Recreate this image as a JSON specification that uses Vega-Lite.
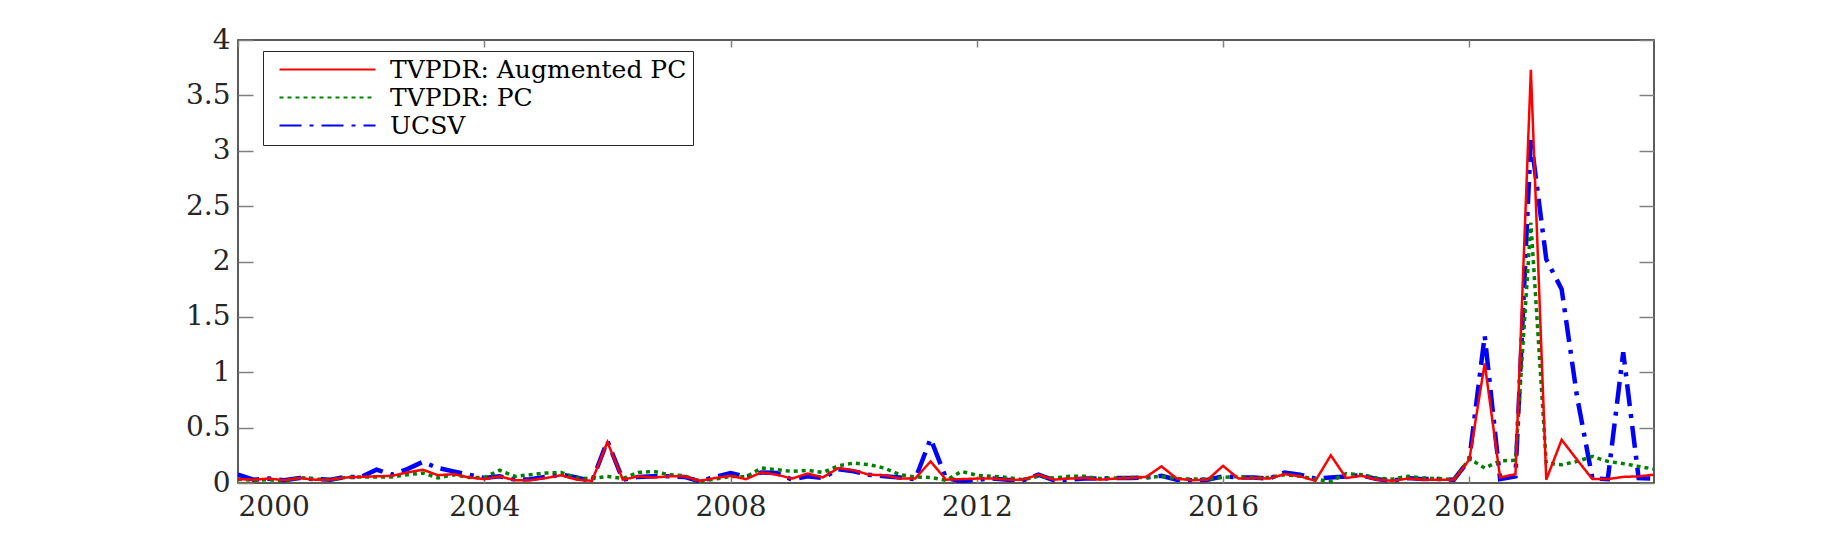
{
  "$schema": "https://vega.github.io/schema/vega-lite/v6.json",
  "width": 1416,
  "height": 443,
  "autosize": {"type": "none"},
  "padding": {"left": 238, "top": 40, "right": 173, "bottom": 60},
  "background": "white",
  "data": {"values": [
    {"t": 2000.00, "TVPDR: Augmented PC": 0.035, "TVPDR: PC": 0.035, "UCSV": 0.075},
    {"t": 2000.25, "TVPDR: Augmented PC": 0.030, "TVPDR: PC": 0.025, "UCSV": 0.030},
    {"t": 2000.50, "TVPDR: Augmented PC": 0.040, "TVPDR: PC": 0.030, "UCSV": 0.040},
    {"t": 2000.75, "TVPDR: Augmented PC": 0.025, "TVPDR: PC": 0.015, "UCSV": 0.025},
    {"t": 2001.00, "TVPDR: Augmented PC": 0.045, "TVPDR: PC": 0.050, "UCSV": 0.045},
    {"t": 2001.25, "TVPDR: Augmented PC": 0.030, "TVPDR: PC": 0.035, "UCSV": 0.035},
    {"t": 2001.50, "TVPDR: Augmented PC": 0.030, "TVPDR: PC": 0.030, "UCSV": 0.030},
    {"t": 2001.75, "TVPDR: Augmented PC": 0.050, "TVPDR: PC": 0.050, "UCSV": 0.055},
    {"t": 2002.00, "TVPDR: Augmented PC": 0.055, "TVPDR: PC": 0.055, "UCSV": 0.055},
    {"t": 2002.25, "TVPDR: Augmented PC": 0.060, "TVPDR: PC": 0.055, "UCSV": 0.120},
    {"t": 2002.50, "TVPDR: Augmented PC": 0.065, "TVPDR: PC": 0.055, "UCSV": 0.075},
    {"t": 2002.75, "TVPDR: Augmented PC": 0.095, "TVPDR: PC": 0.075, "UCSV": 0.125},
    {"t": 2003.00, "TVPDR: Augmented PC": 0.120, "TVPDR: PC": 0.090, "UCSV": 0.190},
    {"t": 2003.25, "TVPDR: Augmented PC": 0.070, "TVPDR: PC": 0.045, "UCSV": 0.135},
    {"t": 2003.50, "TVPDR: Augmented PC": 0.080, "TVPDR: PC": 0.075, "UCSV": 0.105},
    {"t": 2003.75, "TVPDR: Augmented PC": 0.050, "TVPDR: PC": 0.050, "UCSV": 0.075},
    {"t": 2004.00, "TVPDR: Augmented PC": 0.035, "TVPDR: PC": 0.050, "UCSV": 0.045},
    {"t": 2004.25, "TVPDR: Augmented PC": 0.060, "TVPDR: PC": 0.115, "UCSV": 0.060},
    {"t": 2004.50, "TVPDR: Augmented PC": 0.025, "TVPDR: PC": 0.060, "UCSV": 0.030},
    {"t": 2004.75, "TVPDR: Augmented PC": 0.025, "TVPDR: PC": 0.075, "UCSV": 0.035},
    {"t": 2005.00, "TVPDR: Augmented PC": 0.045, "TVPDR: PC": 0.090, "UCSV": 0.055},
    {"t": 2005.25, "TVPDR: Augmented PC": 0.070, "TVPDR: PC": 0.095, "UCSV": 0.075},
    {"t": 2005.50, "TVPDR: Augmented PC": 0.030, "TVPDR: PC": 0.045, "UCSV": 0.050},
    {"t": 2005.75, "TVPDR: Augmented PC": 0.020, "TVPDR: PC": 0.040, "UCSV": 0.015},
    {"t": 2006.00, "TVPDR: Augmented PC": 0.370, "TVPDR: PC": 0.060, "UCSV": 0.380},
    {"t": 2006.25, "TVPDR: Augmented PC": 0.030, "TVPDR: PC": 0.040, "UCSV": 0.030},
    {"t": 2006.50, "TVPDR: Augmented PC": 0.060, "TVPDR: PC": 0.095, "UCSV": 0.055},
    {"t": 2006.75, "TVPDR: Augmented PC": 0.050, "TVPDR: PC": 0.105, "UCSV": 0.060},
    {"t": 2007.00, "TVPDR: Augmented PC": 0.060, "TVPDR: PC": 0.075, "UCSV": 0.060},
    {"t": 2007.25, "TVPDR: Augmented PC": 0.060, "TVPDR: PC": 0.065, "UCSV": 0.055},
    {"t": 2007.50, "TVPDR: Augmented PC": 0.020, "TVPDR: PC": 0.015, "UCSV": 0.015},
    {"t": 2007.75, "TVPDR: Augmented PC": 0.045, "TVPDR: PC": 0.035, "UCSV": 0.055},
    {"t": 2008.00, "TVPDR: Augmented PC": 0.065, "TVPDR: PC": 0.060, "UCSV": 0.090},
    {"t": 2008.25, "TVPDR: Augmented PC": 0.035, "TVPDR: PC": 0.055, "UCSV": 0.055},
    {"t": 2008.50, "TVPDR: Augmented PC": 0.095, "TVPDR: PC": 0.135, "UCSV": 0.095},
    {"t": 2008.75, "TVPDR: Augmented PC": 0.075, "TVPDR: PC": 0.120, "UCSV": 0.090},
    {"t": 2009.00, "TVPDR: Augmented PC": 0.040, "TVPDR: PC": 0.105, "UCSV": 0.030},
    {"t": 2009.25, "TVPDR: Augmented PC": 0.085, "TVPDR: PC": 0.115, "UCSV": 0.060},
    {"t": 2009.50, "TVPDR: Augmented PC": 0.050, "TVPDR: PC": 0.095, "UCSV": 0.045},
    {"t": 2009.75, "TVPDR: Augmented PC": 0.135, "TVPDR: PC": 0.155, "UCSV": 0.125},
    {"t": 2010.00, "TVPDR: Augmented PC": 0.115, "TVPDR: PC": 0.180, "UCSV": 0.105},
    {"t": 2010.25, "TVPDR: Augmented PC": 0.075, "TVPDR: PC": 0.165, "UCSV": 0.075},
    {"t": 2010.50, "TVPDR: Augmented PC": 0.070, "TVPDR: PC": 0.135, "UCSV": 0.060},
    {"t": 2010.75, "TVPDR: Augmented PC": 0.040, "TVPDR: PC": 0.075, "UCSV": 0.050},
    {"t": 2011.00, "TVPDR: Augmented PC": 0.040, "TVPDR: PC": 0.055, "UCSV": 0.035},
    {"t": 2011.25, "TVPDR: Augmented PC": 0.195, "TVPDR: PC": 0.050, "UCSV": 0.400},
    {"t": 2011.50, "TVPDR: Augmented PC": 0.030, "TVPDR: PC": 0.025, "UCSV": 0.045},
    {"t": 2011.75, "TVPDR: Augmented PC": 0.035, "TVPDR: PC": 0.105, "UCSV": 0.015},
    {"t": 2012.00, "TVPDR: Augmented PC": 0.040, "TVPDR: PC": 0.070, "UCSV": 0.030},
    {"t": 2012.25, "TVPDR: Augmented PC": 0.040, "TVPDR: PC": 0.060, "UCSV": 0.040},
    {"t": 2012.50, "TVPDR: Augmented PC": 0.030, "TVPDR: PC": 0.050, "UCSV": 0.030},
    {"t": 2012.75, "TVPDR: Augmented PC": 0.030, "TVPDR: PC": 0.030, "UCSV": 0.025},
    {"t": 2013.00, "TVPDR: Augmented PC": 0.075, "TVPDR: PC": 0.060, "UCSV": 0.075},
    {"t": 2013.25, "TVPDR: Augmented PC": 0.030, "TVPDR: PC": 0.045, "UCSV": 0.025},
    {"t": 2013.50, "TVPDR: Augmented PC": 0.040, "TVPDR: PC": 0.060, "UCSV": 0.030},
    {"t": 2013.75, "TVPDR: Augmented PC": 0.045, "TVPDR: PC": 0.060, "UCSV": 0.040},
    {"t": 2014.00, "TVPDR: Augmented PC": 0.030, "TVPDR: PC": 0.040, "UCSV": 0.040},
    {"t": 2014.25, "TVPDR: Augmented PC": 0.040, "TVPDR: PC": 0.045, "UCSV": 0.045},
    {"t": 2014.50, "TVPDR: Augmented PC": 0.045, "TVPDR: PC": 0.050, "UCSV": 0.045},
    {"t": 2014.75, "TVPDR: Augmented PC": 0.055, "TVPDR: PC": 0.050, "UCSV": 0.050},
    {"t": 2015.00, "TVPDR: Augmented PC": 0.150, "TVPDR: PC": 0.060, "UCSV": 0.065},
    {"t": 2015.25, "TVPDR: Augmented PC": 0.040, "TVPDR: PC": 0.040, "UCSV": 0.030},
    {"t": 2015.50, "TVPDR: Augmented PC": 0.025, "TVPDR: PC": 0.035, "UCSV": 0.025},
    {"t": 2015.75, "TVPDR: Augmented PC": 0.030, "TVPDR: PC": 0.035, "UCSV": 0.030},
    {"t": 2016.00, "TVPDR: Augmented PC": 0.155, "TVPDR: PC": 0.050, "UCSV": 0.060},
    {"t": 2016.25, "TVPDR: Augmented PC": 0.040, "TVPDR: PC": 0.060, "UCSV": 0.050},
    {"t": 2016.50, "TVPDR: Augmented PC": 0.045, "TVPDR: PC": 0.045, "UCSV": 0.050},
    {"t": 2016.75, "TVPDR: Augmented PC": 0.040, "TVPDR: PC": 0.050, "UCSV": 0.040},
    {"t": 2017.00, "TVPDR: Augmented PC": 0.080, "TVPDR: PC": 0.075, "UCSV": 0.095},
    {"t": 2017.25, "TVPDR: Augmented PC": 0.060, "TVPDR: PC": 0.060, "UCSV": 0.075},
    {"t": 2017.50, "TVPDR: Augmented PC": 0.020, "TVPDR: PC": 0.035, "UCSV": 0.040},
    {"t": 2017.75, "TVPDR: Augmented PC": 0.250, "TVPDR: PC": 0.015, "UCSV": 0.050},
    {"t": 2018.00, "TVPDR: Augmented PC": 0.045, "TVPDR: PC": 0.085, "UCSV": 0.060},
    {"t": 2018.25, "TVPDR: Augmented PC": 0.065, "TVPDR: PC": 0.075, "UCSV": 0.070},
    {"t": 2018.50, "TVPDR: Augmented PC": 0.030, "TVPDR: PC": 0.045, "UCSV": 0.035},
    {"t": 2018.75, "TVPDR: Augmented PC": 0.020, "TVPDR: PC": 0.035, "UCSV": 0.020},
    {"t": 2019.00, "TVPDR: Augmented PC": 0.040, "TVPDR: PC": 0.060, "UCSV": 0.045},
    {"t": 2019.25, "TVPDR: Augmented PC": 0.030, "TVPDR: PC": 0.045, "UCSV": 0.035},
    {"t": 2019.50, "TVPDR: Augmented PC": 0.030, "TVPDR: PC": 0.040, "UCSV": 0.035},
    {"t": 2019.75, "TVPDR: Augmented PC": 0.030, "TVPDR: PC": 0.030, "UCSV": 0.030},
    {"t": 2020.00, "TVPDR: Augmented PC": 0.210, "TVPDR: PC": 0.220, "UCSV": 0.210},
    {"t": 2020.25, "TVPDR: Augmented PC": 1.080, "TVPDR: PC": 0.135, "UCSV": 1.330},
    {"t": 2020.50, "TVPDR: Augmented PC": 0.050, "TVPDR: PC": 0.200, "UCSV": 0.035},
    {"t": 2020.75, "TVPDR: Augmented PC": 0.080, "TVPDR: PC": 0.205, "UCSV": 0.060},
    {"t": 2021.00, "TVPDR: Augmented PC": 3.730, "TVPDR: PC": 2.350, "UCSV": 3.110},
    {"t": 2021.25, "TVPDR: Augmented PC": 0.030, "TVPDR: PC": 0.180, "UCSV": 2.020},
    {"t": 2021.50, "TVPDR: Augmented PC": 0.390, "TVPDR: PC": 0.165, "UCSV": 1.750},
    {"t": 2021.75, "TVPDR: Augmented PC": 0.210, "TVPDR: PC": 0.195, "UCSV": 0.780},
    {"t": 2022.00, "TVPDR: Augmented PC": 0.035, "TVPDR: PC": 0.240, "UCSV": 0.040},
    {"t": 2022.25, "TVPDR: Augmented PC": 0.035, "TVPDR: PC": 0.195, "UCSV": 0.035},
    {"t": 2022.50, "TVPDR: Augmented PC": 0.055, "TVPDR: PC": 0.175, "UCSV": 1.180},
    {"t": 2022.75, "TVPDR: Augmented PC": 0.060, "TVPDR: PC": 0.150, "UCSV": 0.045},
    {"t": 2023.00, "TVPDR: Augmented PC": 0.075, "TVPDR: PC": 0.125, "UCSV": 0.040}
  ]},
  "transform": [
    {"fold": ["TVPDR: Augmented PC", "TVPDR: PC", "UCSV"], "as": ["series", "value"]}
  ],
  "layer": [
    {
      "transform": [{"filter": "datum.series === 'UCSV'"}],
      "mark": {"type": "line", "strokeWidth": 4.5, "clip": true},
      "encoding": {
        "x": {"field": "t", "type": "quantitative", "title": null,
              "scale": {"domain": [2000, 2023], "nice": false, "zero": false},
              "axis": {"orient": "bottom", "values": [2000, 2004, 2008, 2012, 2016, 2020], "format": "d",
                       "tickSize": -7, "labelPadding": 17, "domain": false, "grid": false}},
        "y": {"field": "value", "type": "quantitative", "title": null,
              "scale": {"domain": [0, 4], "nice": false, "zero": true},
              "axis": {"orient": "left", "values": [0, 0.5, 1, 1.5, 2, 2.5, 3, 3.5, 4], "format": "~g",
                       "tickSize": -15, "labelPadding": 23, "domain": false, "grid": false}},
        "color": {"field": "series", "type": "nominal", "title": null,
                  "scale": {"domain": ["TVPDR: Augmented PC", "TVPDR: PC", "UCSV"], "range": ["#ff0000", "#008000", "#0000ff"]}},
        "strokeDash": {"field": "series", "type": "nominal", "title": null,
                       "scale": {"domain": ["TVPDR: Augmented PC", "TVPDR: PC", "UCSV"], "range": [[1, 0], [4, 4], [22, 8, 4, 8]]}}
      }
    },
    {
      "transform": [{"filter": "datum.series === 'TVPDR: PC'"}],
      "mark": {"type": "line", "strokeWidth": 3.5, "clip": true},
      "encoding": {
        "x": {"field": "t", "type": "quantitative", "title": null,
              "axis": {"orient": "top", "values": [2000, 2004, 2008, 2012, 2016, 2020], "labels": false,
                       "tickSize": -7, "domain": false, "grid": false}},
        "y": {"field": "value", "type": "quantitative", "title": null,
              "axis": {"orient": "right", "values": [0, 0.5, 1, 1.5, 2, 2.5, 3, 3.5, 4], "labels": false,
                       "tickSize": -15, "domain": false, "grid": false}},
        "color": {"field": "series", "type": "nominal", "title": null},
        "strokeDash": {"field": "series", "type": "nominal", "title": null}
      }
    },
    {
      "transform": [{"filter": "datum.series === 'TVPDR: Augmented PC'"}],
      "mark": {"type": "line", "strokeWidth": 2.5, "clip": true},
      "encoding": {
        "x": {"field": "t", "type": "quantitative", "axis": null},
        "y": {"field": "value", "type": "quantitative", "axis": null},
        "color": {"field": "series", "type": "nominal", "title": null},
        "strokeDash": {"field": "series", "type": "nominal", "title": null}
      }
    }
  ],
  "resolve": {"axis": {"x": "independent", "y": "independent"}},
  "config": {
    "view": {"stroke": "#262626", "strokeWidth": 1.5},
    "axis": {
      "labelFont": "DejaVu Serif",
      "labelFontSize": 28,
      "labelColor": "#262626",
      "tickColor": "#808080",
      "tickWidth": 1.5
    },
    "legend": {
      "orient": "none",
      "legendX": 25,
      "legendY": 11,
      "labelFont": "DejaVu Serif",
      "labelFontSize": 25,
      "labelColor": "#000000",
      "labelLimit": 0,
      "symbolType": "M-4.8,0H4.8",
      "symbolSize": 400,
      "symbolOffset": 46,
      "labelOffset": 50,
      "symbolStrokeWidth": 2,
      "strokeColor": "#262626",
      "fillColor": "#ffffff",
      "padding": 6,
      "rowPadding": 2,
      "cornerRadius": 0
    }
  }
}
